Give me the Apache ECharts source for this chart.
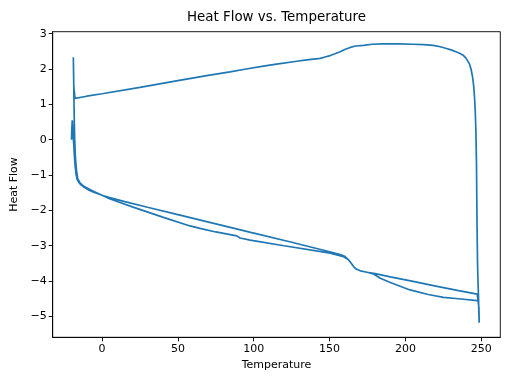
<!DOCTYPE html>
<html>
<head>
<meta charset="utf-8">
<script src="https://cdn.jsdelivr.net/npm/echarts@6/dist/echarts.min.js"></script>
<style>html,body{margin:0;padding:0;background:#fff;}#c{width:512px;height:384px;}</style>
</head>
<body>
<div id="c"></div>
<script>
// First heating run (start transient, upper lower branch, isothermal drop)
const heat1Temp = [-20.1, -19.9, -19.6, -19.3, -19.0, -18.6, -18.2, -17.7, -17.1, -16.4, -15.4, -14.0, -12.0, -9.0, -5.0, 0, 5, 15, 30, 50, 75, 98, 125, 150, 157, 160, 162.5, 164, 165.8, 167.5, 170.2, 174.6, 180, 190, 205, 220, 235, 247.3, 248.4, 248.6];
const heat1Flow = [0.0, 0.3, 0.55, 0.35, 0.1, -0.15, -0.45, -0.75, -0.98, -1.12, -1.2, -1.27, -1.34, -1.42, -1.49, -1.57, -1.64, -1.75, -1.91, -2.12, -2.38, -2.62, -2.90, -3.17, -3.25, -3.30, -3.40, -3.48, -3.59, -3.66, -3.71, -3.75, -3.79, -3.88, -4.01, -4.14, -4.27, -4.37, -4.75, -5.18];
// Cooling run
const coolTemp = [248.6, 248.3, 248.1, 247.8, 247.5, 247.2, 247.0, 246.8, 246.4, 246.0, 245.5, 245.0, 244.2, 243.2, 242.0, 240.0, 238.0, 236.0, 233.7, 230.0, 227.0, 223.0, 218.3, 212.0, 205.0, 195.0, 185.0, 178.0, 172.4, 167.0, 163.6, 160.0, 157.0, 153.5, 150.4, 147.0, 143.8, 135.0, 128.4, 115.0, 106.4, 95.0, 84.4, 70.0, 50.0, 25.0, 0.0, -10.0, -17.8];
const coolFlow = [-5.18, -4.8, -4.4, -4.0, -3.5, -2.5, -1.6, -0.67, 0.27, 0.8, 1.21, 1.5, 1.78, 2.0, 2.16, 2.30, 2.39, 2.44, 2.48, 2.54, 2.58, 2.63, 2.67, 2.69, 2.70, 2.71, 2.71, 2.70, 2.67, 2.65, 2.61, 2.55, 2.49, 2.43, 2.38, 2.34, 2.30, 2.26, 2.22, 2.14, 2.08, 2.00, 1.92, 1.82, 1.67, 1.48, 1.30, 1.23, 1.17];
// Second heating run
const heat2Temp = [-18.6, -18.9, -18.7, -18.5, -18.3, -18.0, -17.6, -16.9, -16.0, -14.5, -12.0, -8.0, -5.0, 0, 5, 10, 20, 40, 58, 64.6, 75, 88.8, 91, 97.6, 120, 150.4, 159.2, 162.5, 164, 165.8, 167.5, 170.2, 174.6, 179, 183.4, 190, 203, 215, 225, 235, 247.2, 248.3];
const heat2Flow = [1.5, 2.33, 1.8, 1.17, 0.6, 0.0, -0.45, -0.85, -1.1, -1.22, -1.32, -1.41, -1.47, -1.57, -1.67, -1.75, -1.90, -2.19, -2.44, -2.51, -2.61, -2.72, -2.78, -2.84, -3.0, -3.21, -3.31, -3.40, -3.48, -3.59, -3.66, -3.71, -3.75, -3.80, -3.92, -4.04, -4.25, -4.38, -4.46, -4.50, -4.55, -4.57];

const xTicks = [0, 50, 100, 150, 200, 250];
const yTicks = [-5, -4, -3, -2, -1, 0, 1, 2, 3];

function zip(t, f) { return t.map((v, i) => [v, f[i]]); }
const allData = zip(heat1Temp, heat1Flow).concat(zip(coolTemp, coolFlow), zip(heat2Temp, heat2Flow));

const FONT = 'DejaVu Sans';
const fmt = v => String(v).replace('-', '\u2212');

const chart = echarts.init(document.getElementById('c'), null, {renderer: 'canvas'});
chart.setOption({
  animation: false,
  backgroundColor: '#fff',
  title: {
    text: 'Heat Flow vs. Temperature',
    left: 276.5, top: 11, textAlign: 'center', padding: 0,
    textStyle: {fontFamily: FONT, fontSize: 13.4, fontWeight: 'normal', color: '#000'}
  },
  grid: {left: 52.7, right: 11.7, top: 31.7, bottom: 46.7, show: true, borderColor: '#000', borderWidth: 0.9, containLabel: false},
  xAxis: {
    type: 'value', min: -32.5, max: 262.5,
    name: 'Temperature', nameLocation: 'middle', nameGap: 21,
    nameTextStyle: {fontFamily: FONT, fontSize: 11, color: '#000'},
    axisLine: {show: true, onZero: false, lineStyle: {color: '#000', width: 0.9}},
    axisTick: {show: true, length: 4, lineStyle: {color: '#000', width: 0.9}, customValues: xTicks},
    axisLabel: {fontFamily: FONT, fontSize: 11, color: '#000', margin: 6, customValues: xTicks, formatter: fmt},
    splitLine: {show: false}
  },
  yAxis: {
    type: 'value', min: -5.59, max: 3.055,
    name: 'Heat Flow', nameLocation: 'middle', nameGap: 31, nameRotate: 90,
    nameTextStyle: {fontFamily: FONT, fontSize: 11, color: '#000'},
    axisLine: {show: true, onZero: false, lineStyle: {color: '#000', width: 0.9}},
    axisTick: {show: true, length: 4, lineStyle: {color: '#000', width: 0.9}, customValues: yTicks},
    axisLabel: {fontFamily: FONT, fontSize: 11, color: '#000', margin: 6, customValues: yTicks, formatter: fmt},
    splitLine: {show: false}
  },
  series: [{
    type: 'line', data: allData, showSymbol: false, symbol: 'none',
    lineStyle: {color: '#1f77b4', width: 1.7}, itemStyle: {color: '#1f77b4'},
    clip: true
  }]
});
</script>
</body>
</html>
